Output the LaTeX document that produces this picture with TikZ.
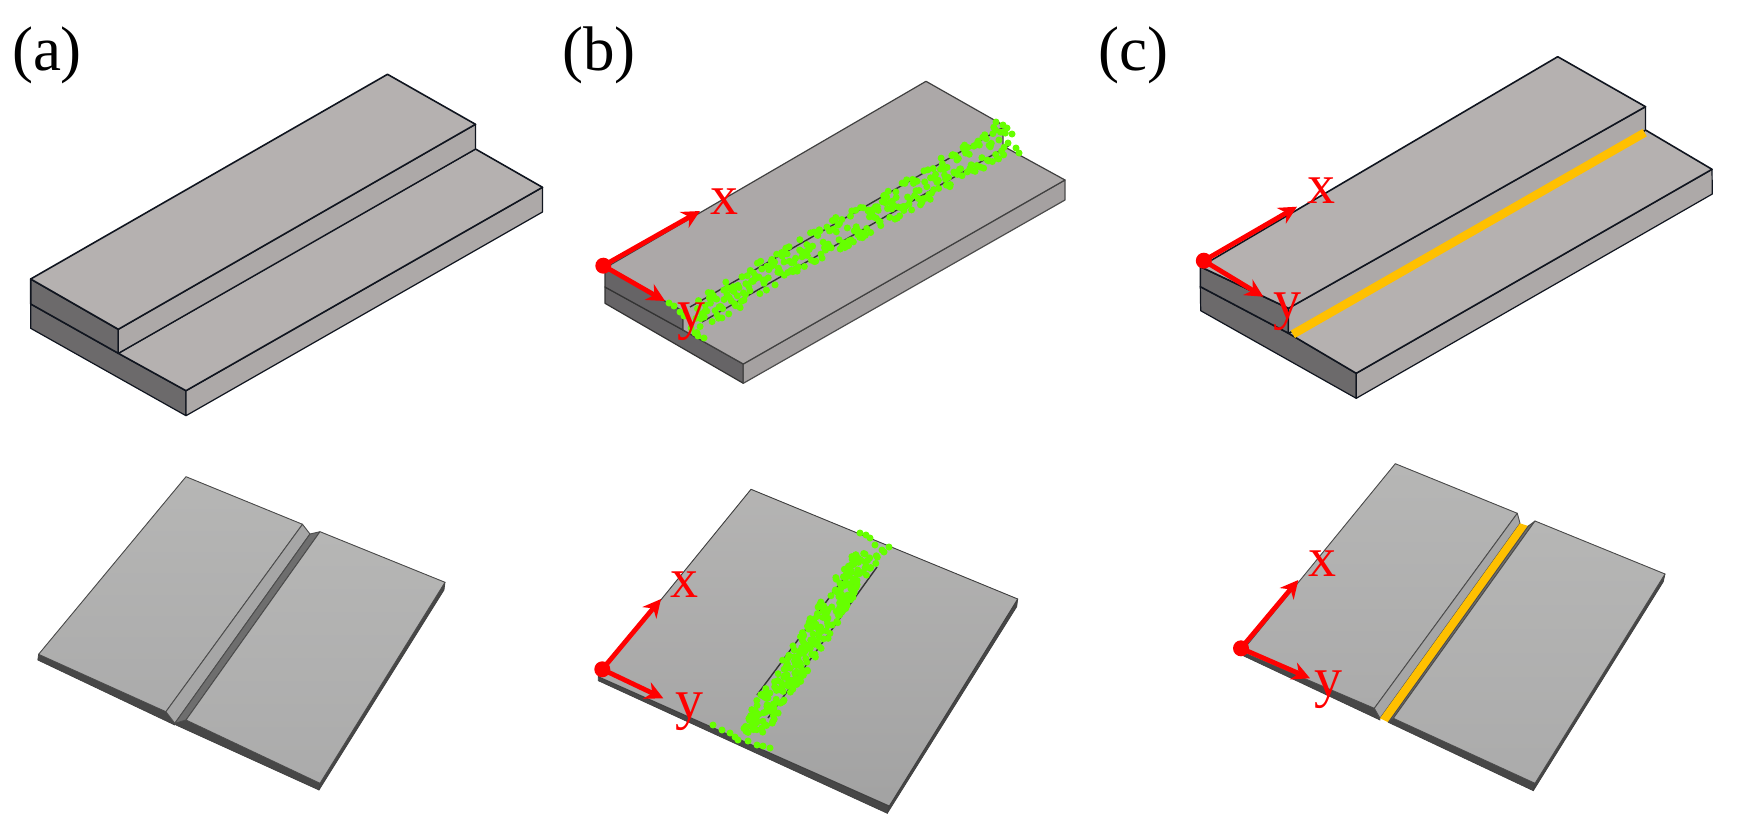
\documentclass[tikz,border=0pt]{standalone}
\usepackage{fontspec}
\setmainfont{Liberation Serif}
\usetikzlibrary{arrows.meta}
\definecolor{topA}{HTML}{B5B1B0}
\definecolor{sideA}{HTML}{ADA9A8}
\definecolor{darkA}{HTML}{6C6A6B}
\definecolor{topB}{HTML}{ACA8A8}
\definecolor{sideB}{HTML}{A5A1A1}
\definecolor{darkB}{HTML}{666466}
\definecolor{plateHi}{HTML}{B6B6B5}
\definecolor{plateLo}{HTML}{ABABAB}
\definecolor{bevel}{HTML}{A6A6A6}
\definecolor{groove}{HTML}{6E6E6E}
\definecolor{edgeDark}{HTML}{474747}
\definecolor{weld}{HTML}{FFC000}
\definecolor{dotgreen}{HTML}{66FF00}
\definecolor{axisred}{HTML}{FF0000}
\definecolor{navyline}{HTML}{10151F}
\tikzset{
  x=1pt,y=-1pt,
  blockface/.style={draw=navyline,line width=1.6pt,line join=round},
  thinface/.style={draw=navyline,line width=1.2pt,line join=round},
  plateface/.style={draw=black!70,line width=0.9pt,line join=round},
  plateside/.style={draw=black!75,line width=0.7pt,fill=edgeDark,line join=round},
  panellabel/.style={font=\fontsize{63}{65}\selectfont,inner sep=0pt,text=black},
  axislabel/.style={font=\fontsize{56}{58}\selectfont,inner sep=0pt,text=axisred},
  axisdot/.style={circle,fill=axisred,inner sep=0pt,minimum size=16pt},
  axisarrow/.style={draw=axisred,line width=4.8pt,-{Stealth[length=18pt,width=18pt]}},
  greendot/.style={fill=dotgreen},
  hiddenline/.style={draw=black!80,line width=1.4pt},
}
% scatter: count, x0,y0, x1,y1, half-width vector wx,wy
\newcommand{\scatterband}[7]{%
  \foreach \i in {1,...,#1}{%
    \pgfmathsetmacro\tv{(\i-1+rnd)/#1}%
    \pgfmathsetmacro\uv{2*rnd-1}%
    \pgfmathsetmacro\px{#2+\tv*(#4-#2)+\uv*#6}%
    \pgfmathsetmacro\py{#3+\tv*(#5-#3)+\uv*#7}%
    \fill[greendot] (\px,\py) circle (3.5);%
  }%
}
\newcommand{\dotsat}[1]{\foreach \p in {#1}{\fill[greendot] \p circle (3.5);}}
\begin{document}
\begin{tikzpicture}
\useasboundingbox (0,0) rectangle (1761,819);
\fill[white] (0,0) rectangle (1761,819);
\pgfmathsetseed{4217}

% ---------- (a) top ----------
\filldraw[thinface,fill=darkA] (30.7,304) -- (118.3,353.3) -- (186,390.7) -- (186,415.7) -- (30.7,328.3) -- cycle;
\filldraw[blockface,fill=darkA] (30.7,279) -- (118.3,329.3) -- (118.3,353.3) -- (30.7,304) -- cycle;
\filldraw[thinface,fill=sideA] (186,390.7) -- (542.5,187.3) -- (542.5,212) -- (186,415.7) -- cycle;
\filldraw[blockface,fill=topA] (118.3,353.3) -- (475.5,149) -- (542.5,187.3) -- (186,390.7) -- cycle;
\filldraw[thinface,fill=sideA] (118.3,329.3) -- (475.5,124.3) -- (475.5,149) -- (118.3,353.3) -- cycle;
\filldraw[blockface,fill=topA] (30.7,279) -- (387.5,74.3) -- (475.5,124.3) -- (118.3,329.3) -- cycle;

% ---------- (a) bottom ----------
\filldraw[plateside] (38.6,654.3) -- (37.8,660) -- (174.8,725) -- (174.8,723.3) -- (165.9,711.7) -- cycle;
\filldraw[plateside] (174.8,723.3) -- (176,725) -- (319,790) -- (320,783.3) -- (186,720) -- cycle;
\filldraw[plateside] (445,582.3) -- (444,590) -- (319,790) -- (320,783.3) -- cycle;
\filldraw[plateface,top color=plateHi,bottom color=plateLo] (186,476.7) -- (302.5,524.3) -- (165.9,711.7) -- (38.6,654.3) -- cycle;
\filldraw[plateface,fill=bevel] (302.5,524.3) -- (310,534) -- (174.8,723.3) -- (165.9,711.7) -- cycle;
\filldraw[plateface,fill=groove] (310,534) -- (320,531.7) -- (186,720) -- (174.8,723.3) -- cycle;
\filldraw[plateface,top color=plateHi,bottom color=plateLo] (320,531.7) -- (445,582.3) -- (320,783.3) -- (186,720) -- cycle;

% ---------- (b) top ----------
\filldraw[thinface,draw=black!80,fill=darkB] (605,287) -- (683,330) -- (743.3,364) -- (743.3,383.3) -- (605,303.3) -- cycle;
\filldraw[thinface,draw=black!80,fill=darkB] (605,268) -- (683,311) -- (683,330) -- (605,287) -- cycle;
\filldraw[thinface,draw=black!70,fill=sideB] (743.3,364) -- (1065,180) -- (1065,200) -- (743.3,383.3) -- cycle;
\filldraw[thinface,draw=black!75,fill=topB] (605,268) -- (926,81.3) -- (1003,125) -- (1003,146) -- (1065,180) -- (743.3,364) -- (683,330) -- (683,311) -- cycle;
\draw[hiddenline] (690,307) -- (1002,128);
\draw[hiddenline] (702,322) -- (1010,145);
\scatterband{300}{695}{316}{1006}{138}{0}{18}
\dotsat{(669,303),(674,306),(680,312),(684,316),(691,328),(695,333),(698,336),(704,338),(996,122),(1003,125),(1007,128),(1012,134),(1016,148),(1019,153),(1008,143)}

% ---------- (b) bottom ----------
\filldraw[plateside] (598.3,676.7) -- (598.3,680.7) -- (887.3,813.3) -- (889.3,806) -- cycle;
\filldraw[plateside] (1017.7,599) -- (1016.7,606.7) -- (887.3,813.3) -- (889.3,806) -- cycle;
\filldraw[plateface,draw=black!75,top color=plateHi!85!topB,bottom color=plateLo!95!black] (751,489.3) -- (1017.7,599) -- (889.3,806) -- (598.3,676.7) -- cycle;
\draw[hiddenline] (855,563) -- (757,695);
\draw[hiddenline] (877,567) -- (768,718);
\scatterband{270}{867}{553}{752}{733}{16}{0}
\dotsat{(860,533),(866,535),(870,538),(875,545),(882,550),(889,547),(884,552),(713,725),(722,730),(730,733),(735,737),(738,740),(748,741),(757,745),(763,746),(770,748)}

% ---------- (c) top ----------
\filldraw[thinface,fill=darkA] (1200.3,286.7) -- (1288.5,333.3) -- (1356.2,373.3) -- (1356.2,398.3) -- (1200.7,310.7) -- cycle;
\filldraw[blockface,fill=darkA] (1200.3,266.7) -- (1288.5,308.3) -- (1288.5,333.3) -- (1200.3,286.7) -- cycle;
\filldraw[thinface,fill=sideA] (1356.2,373.3) -- (1712,169.3) -- (1712.3,194) -- (1356.2,398.3) -- cycle;
\filldraw[blockface,fill=topA] (1288.5,333.3) -- (1645.5,130) -- (1712,169.3) -- (1356.2,373.3) -- cycle;
\filldraw[thinface,fill=sideA] (1288.5,308.3) -- (1645.5,106.7) -- (1645.5,130) -- (1288.5,333.3) -- cycle;
\filldraw[blockface,fill=topA] (1200.3,266.7) -- (1557.7,56.7) -- (1645.5,106.7) -- (1288.5,308.3) -- cycle;
\draw[draw=weld,line width=8.5pt] (1292.8,334.3) -- (1644.6,132.7);

% ---------- (c) bottom ----------
\filldraw[plateside] (1241.7,651.7) -- (1241.7,655) -- (1380,720) -- (1374.3,708.3) -- cycle;
\filldraw[plateside] (1388.3,722.3) -- (1533.3,790.7) -- (1535,783.3) -- (1393.3,718.3) -- cycle;
\filldraw[plateside] (1665,574) -- (1663.3,581.7) -- (1533.3,790.7) -- (1535,783.3) -- cycle;
\filldraw[plateface,top color=plateHi,bottom color=plateLo] (1395.3,463.7) -- (1517.3,513.3) -- (1374.3,708.3) -- (1241.7,651.7) -- cycle;
\filldraw[plateface,fill=bevel] (1517.3,513.3) -- (1520,523.3) -- (1380,718.3) -- (1374.3,708.3) -- cycle;
\fill[weld] (1520,523.3) -- (1528.3,526) -- (1388.3,722.3) -- (1380,718.3) -- cycle;
\filldraw[plateface,fill=groove] (1528.3,526) -- (1535,521) -- (1393.3,718.3) -- (1388.3,722.3) -- cycle;
\filldraw[plateface,top color=plateHi,bottom color=plateLo] (1535,521) -- (1665,574) -- (1535,783.3) -- (1393.3,718.3) -- cycle;

% ---------- axes ----------
\node[axisdot] (o1) at (603.3,265.7) {};
\node[axislabel] (x1) at (724,202) {x};
\node[axislabel] (y1) at (691.7,321.7) {y};
\coordinate (x1tip) at (700,211);
\coordinate (y1tip) at (665,301);
\draw[axisarrow] (o1.center) -- (x1tip);
\draw[axisarrow] (o1.center) -- (y1tip);

\node[axisdot] (o2) at (602.3,669.3) {};
\node[axislabel] (x2) at (684,585) {x};
\node[axislabel] (y2) at (689.3,711.7) {y};
\coordinate (x2tip) at (661,599);
\coordinate (y2tip) at (663.3,698.3);
\draw[axisarrow] (o2.center) -- (x2tip);
\draw[axisarrow] (o2.center) -- (y2tip);

\node[axisdot] (o3) at (1203.8,260.7) {};
\node[axislabel] (x3) at (1321,190.7) {x};
\node[axislabel] (y3) at (1287.6,311.7) {y};
\coordinate (x3tip) at (1297,206.7);
\coordinate (y3tip) at (1263.3,296.7);
\draw[axisarrow] (o3.center) -- (x3tip);
\draw[axisarrow] (o3.center) -- (y3tip);

\node[axisdot] (o4) at (1241,648.3) {};
\node[axislabel] (x4) at (1322.7,563.3) {x};
\node[axislabel] (y4) at (1328.3,690) {y};
\coordinate (x4tip) at (1298.3,580);
\coordinate (y4tip) at (1310,678.3);
\draw[axisarrow] (o4.center) -- (x4tip);
\draw[axisarrow] (o4.center) -- (y4tip);

% ---------- panel labels ----------
\node[panellabel] (la) at (47,55) {(a)};
\node[panellabel] (lb) at (599,55) {(b)};
\node[panellabel] (lc) at (1133,55) {(c)};
\end{tikzpicture}
\end{document}
